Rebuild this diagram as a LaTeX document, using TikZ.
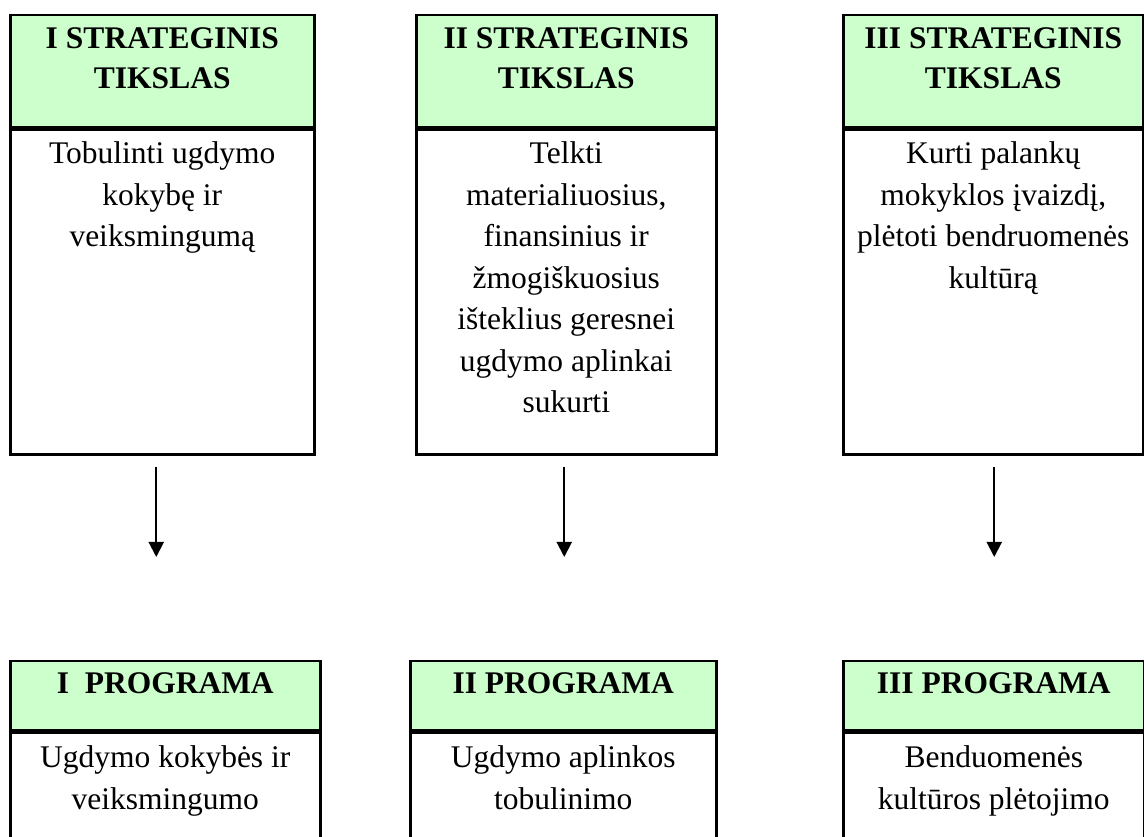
\documentclass[tikz,border=0pt]{standalone}
\usepackage{fontspec}
\setmainfont{Liberation Serif}
\usetikzlibrary{arrows.meta,positioning}
\definecolor{headgreen}{HTML}{CCFFCC}
\tikzset{
  cell/.style={draw,line width=2.5pt,inner sep=0pt,anchor=north west},
  goalhead/.style={cell,fill=headgreen,minimum height=112pt},
  goalbody/.style={cell,minimum height=325pt},
  proghead/.style={cell,fill=headgreen,minimum height=69pt},
  progbody/.style={cell,minimum height=140pt},
  headtext/.style={font=\fontsize{31.5}{40}\selectfont\bfseries,align=center,inner sep=0pt},
  bodytext/.style={font=\fontsize{31.5}{41.5}\selectfont,align=center,inner sep=0pt},
  link/.style={-{Triangle[length=15pt,width=15pt]},line width=2pt,shorten <=11pt,shorten >=103pt}
}

\begin{document}
\begin{tikzpicture}[x=1pt,y=1pt]
  \clip (0,0) rectangle (1144,837);
  % Strategic goals
  \node[goalhead,minimum width=304pt] (g1head) at (9,823) {};
  \node[goalbody,minimum width=304pt] (g1body) at (g1head.south west) {};
  \node[goalhead,minimum width=300pt] (g2head) at (415,823) {};
  \node[goalbody,minimum width=300pt] (g2body) at (g2head.south west) {};
  \node[goalhead,minimum width=300pt] (g3head) at (842,823) {};
  \node[goalbody,minimum width=300pt] (g3body) at (g3head.south west) {};
  \node[headtext,below=13pt of g1head.north] (g1title) {I STRATEGINIS\\TIKSLAS};
  \node[headtext,below=13pt of g2head.north] (g2title) {II STRATEGINIS\\TIKSLAS};
  \node[headtext,below=13pt of g3head.north] (g3title) {III STRATEGINIS\\TIKSLAS};
  \node[bodytext,below=13pt of g1body.north] (g1text)
    {Tobulinti ugdymo\\kokybę ir\\veiksmingumą};
  \node[bodytext,below=13pt of g2body.north] (g2text)
    {Telkti\\materialiuosius,\\finansinius ir\\žmogiškuosius\\išteklius geresnei\\ugdymo aplinkai\\sukurti};
  \node[bodytext,below=13pt of g3body.north] (g3text)
    {Kurti palankų\\mokyklos įvaizdį,\\plėtoti bendruomenės\\kultūrą};
  % Programmes
  \node[proghead,minimum width=310pt] (p1head) at (9,177) {};
  \node[progbody,minimum width=310pt] (p1body) at (p1head.south west) {};
  \node[proghead,minimum width=306pt] (p2head) at (409,177) {};
  \node[progbody,minimum width=306pt] (p2body) at (p2head.south west) {};
  \node[proghead,minimum width=301pt] (p3head) at (842,177) {};
  \node[progbody,minimum width=301pt] (p3body) at (p3head.south west) {};
  \node[headtext,below=12pt of p1head.north] (p1title) {I~~PROGRAMA};
  \node[headtext,below=12pt of p2head.north] (p2title) {II PROGRAMA};
  \node[headtext,below=12pt of p3head.north] (p3title) {III PROGRAMA};
  \node[bodytext,below=14pt of p1body.north] (p1text) {Ugdymo kokybės ir\\veiksmingumo};
  \node[bodytext,below=14pt of p2body.north] (p2text) {Ugdymo aplinkos\\tobulinimo};
  \node[bodytext,below=14pt of p3body.north] (p3text) {Benduomenės\\kultūros plėtojimo};
  % Links
  \draw[link] ([xshift=-6pt]g1body.south) -- ([xshift=-6pt]g1body.south |- p1head.north);
  \draw[link] ([xshift=-2pt]g2body.south) -- ([xshift=-2pt]g2body.south |- p2head.north);
  \draw[link] ([xshift=1pt]g3body.south) -- ([xshift=1pt]g3body.south |- p3head.north);
\end{tikzpicture}
\end{document}
